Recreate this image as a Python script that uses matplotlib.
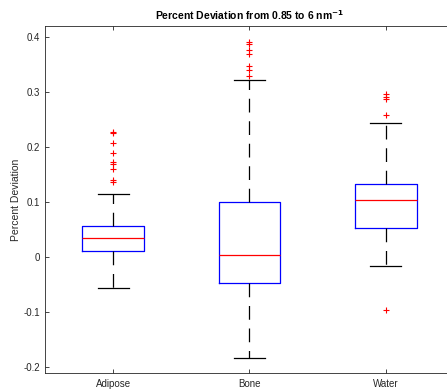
import matplotlib
matplotlib.use("Agg")
import matplotlib.pyplot as plt

plt.rcParams['font.family'] = ['Liberation Sans', 'DejaVu Sans']

# box statistics per tissue
labels = ['Adipose', 'Bone', 'Water']
q1 = [0.011, -0.047, 0.054]
med = [0.036, 0.004, 0.104]
q3 = [0.057, 0.101, 0.133]
whislo = [-0.056, -0.182, -0.016]
whishi = [0.115, 0.322, 0.243]
fliers = [
    [0.228, 0.226, 0.207, 0.189, 0.173, 0.170, 0.161, 0.141, 0.137],
    [0.391, 0.388, 0.376, 0.369, 0.348, 0.340, 0.330],
    [0.297, 0.292, 0.287, 0.258, -0.095],
]

stats = []
for i in range(len(labels)):
    stats.append(dict(label=labels[i], q1=q1[i], med=med[i], q3=q3[i],
                      whislo=whislo[i], whishi=whishi[i], fliers=fliers[i]))

fig = plt.figure(figsize=(4.47, 3.89), dpi=100)
ax = fig.add_axes([45/447, 1-373/389, 409/447, 347/389])

ax.bxp(stats, widths=0.45,
       boxprops=dict(color='blue', linewidth=0.9),
       medianprops=dict(color='red', linewidth=0.9),
       whiskerprops=dict(color='black', linewidth=0.9, linestyle=(0, (11, 7))),
       capprops=dict(color='black', linewidth=0.9),
       flierprops=dict(marker='+', markeredgecolor='red', markersize=5,
                       markeredgewidth=0.8, linestyle='none'))

ax.set_xlim(0.5, 3.5)
ax.set_ylim(-0.21, 0.42)
ax.set_yticks([-0.2, -0.1, 0, 0.1, 0.2, 0.3, 0.4])
ax.set_yticklabels(['-0.2', '-0.1', '0', '0.1', '0.2', '0.3', '0.4'])

for s in ax.spines.values():
    s.set_color('#262626')
    s.set_linewidth(0.6)
ax.tick_params(direction='in', labelsize=7, colors='#262626', length=3,
               width=0.6, top=True, right=True)
ax.tick_params(axis='x', pad=4)

ax.set_ylabel('Percent Deviation', fontsize=7.5, color='#262626', labelpad=1.5)
ax.set_title('Percent Deviation from 0.85 to 6 nm$^{\\mathbf{-1}}$',
             fontsize=7.5, fontweight='bold', pad=4)

fig.savefig('out.png', dpi=100)
